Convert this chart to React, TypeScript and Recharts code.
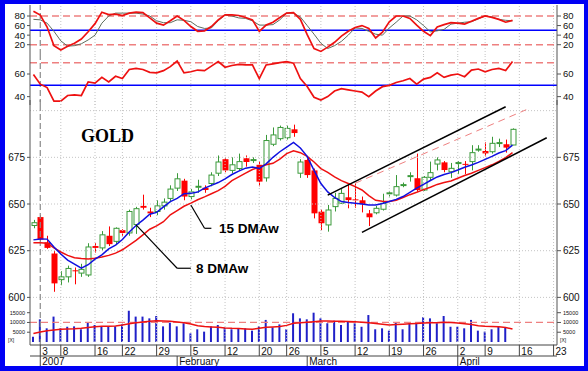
import React from 'react';
import { ComposedChart, Bar, Line, XAxis, YAxis, ReferenceLine } from 'recharts';

const dates = [
  '12/29', '1/3', '1/4', '1/5', '1/8', '1/9', '1/10', '1/11', '1/12', '1/16', '1/17', '1/18', '1/19',
  '1/22', '1/23', '1/24', '1/25', '1/26', '1/29', '1/30', '1/31', '2/1', '2/2', '2/5', '2/6', '2/7',
  '2/8', '2/9', '2/12', '2/13', '2/14', '2/15', '2/16', '2/20', '2/21', '2/22', '2/23', '2/26', '2/27',
  '2/28', '3/1', '3/2', '3/5', '3/6', '3/7', '3/8', '3/9', '3/12', '3/13', '3/14', '3/15', '3/16',
  '3/19', '3/20', '3/21', '3/22', '3/23', '3/26', '3/27', '3/28', '3/29', '3/30', '4/2', '4/3', '4/4',
  '4/5', '4/9', '4/10', '4/11', '4/12', '4/13', '4/16', '4/17', '4/18', '4/19', '4/20', '4/23',
];

const openP = [
  638.5, 643, 629.5, 623.5, 609.5, 611, 614.5, 613, 612, 627.5,
  626.5, 633, 630, 636, 634.5, 639, 649, 646, 646, 649,
  653, 658.5, 662.5, 654, 659, 658.7, 661, 666.5, 674, 668,
  669, 674.5, 673.3, 671, 664, 682, 685, 685.5, 690, 666.5,
  673.6, 668, 645.9, 638.8, 648.6, 650.4, 653.6, 652.5, 652, 645,
  645.3, 647.2, 655.5, 654.8, 660, 664.8, 663.8, 657.5, 664.3, 671.4,
  672.3, 667.3, 672, 671.5, 672.7, 679.2, 678.4, 678, 682.7, 682, 681.6,
];
const highP = [
  641.5, 644, 633, 625, 614, 617, 616, 618, 629, 629,
  635.5, 638, 637.5, 636.5, 647, 648.5, 655, 648, 652, 653,
  660, 666.5, 663.5, 658, 663, 660, 667, 676, 675, 675,
  677, 676, 675, 673, 687, 691, 692, 692, 692.5, 674,
  674.5, 669, 647, 649.5, 656, 658, 660.2, 661, 654, 646.8,
  649, 655.5, 657, 665.5, 661.5, 667, 677, 665, 672.7, 675,
  673, 672, 673, 673, 681.5, 681.5, 683, 686, 685, 684.5, 690.5,
];
const lowP = [
  637, 630, 626, 603, 606.5, 608, 607, 611, 611, 624,
  625, 627.5, 628, 633, 633, 634, 647, 643, 644, 647,
  651, 657, 652, 652.5, 656, 656, 659.5, 665, 667, 666.5,
  668, 670, 672, 659.5, 662, 681, 684, 684.5, 686, 664,
  664, 642.3, 636, 635.2, 646, 650, 647.7, 648, 645.5, 638.2,
  644.5, 646.5, 654, 654, 659, 662, 656.6, 657, 662.9, 668,
  667, 664, 666, 666, 668, 678, 675.5, 677, 680.5, 677.5, 681.5,
];
const closeP = [
  640, 631, 626.5, 607.5, 611, 615.5, 614, 615, 627, 626.5,
  633.5, 628.5, 637, 634.5, 646, 647.5, 648, 645, 649, 651,
  658, 663.5, 654, 656.5, 659.5, 657.5, 665.5, 672.5, 668, 671,
  672.7, 672.5, 673.8, 662, 684, 687, 691, 690.5, 688, 672.5,
  665.5, 645, 639.7, 646.8, 653, 655.7, 652.1, 652, 650, 642.9,
  647.7, 650.4, 656, 659.3, 660.4, 665.2, 657.5, 664.3, 666.8, 673.6,
  668.2, 669.1, 672.2, 671.2, 677.5, 679.4, 677.1, 682.5, 682.9, 680.2, 690,
];
const ma8 = [
  630.8, 631.3, 631.2, 627, 623.2, 620, 617.8, 615.6, 617.5, 620.5,
  622.8, 626, 628, 631, 635, 638.5, 641.4, 644.5, 645.5, 648.5,
  651.3, 653, 655.5, 655.7, 656.4, 658.5, 660, 661.5, 663.5, 665.8,
  667.6, 669.2, 669.8, 669, 671.5, 675, 678, 680.5, 683, 680,
  675.5, 668, 661, 656.5, 653.5, 651.3, 650.8, 650.4, 650, 649.5,
  649.5, 650.3, 651.3, 652.5, 654, 656.2, 658.5, 660.5, 662.6, 664.5,
  665.8, 666.8, 668.2, 669.7, 670.9, 672.3, 673.9, 675.5, 677.3, 678.6, 681.5,
];
const ma15 = [
  629.3, 629.3, 629, 626.5, 624.3, 622.5, 621.2, 620.8, 620.6, 621,
  621.6, 622.5, 623.7, 625.5, 628, 630.5, 633.5, 636.5, 638.3, 640.5,
  644.2, 646.5, 648.8, 650.5, 652.3, 653.8, 655.5, 657.2, 659.5, 662.5,
  664.5, 666.5, 668.5, 669.8, 671, 671.8, 674, 677, 678.5, 677.5,
  675.5, 672.5, 669, 667, 664.5, 662.5, 661, 659.3, 657.5, 654.5,
  652, 651.5, 651.3, 652, 653.5, 655, 656.3, 657.7, 659, 660.5,
  661.5, 662.3, 663.8, 665.3, 666.5, 668, 669.5, 671, 672.8, 674.8, 677.5,
];
const stochK = [
  90, 82, 57, 18, 9, 17, 23, 32, 47, 64,
  88, 83, 84, 81, 86, 88, 87, 76, 65, 61,
  70, 80, 71, 58, 48, 49, 58, 72, 82.5, 82.5,
  81, 77, 72, 48, 61, 67, 77, 86, 87, 73,
  41, 12, 6, 15, 25, 38, 48, 56, 60, 54,
  34, 46, 68, 80, 80, 75, 61, 48, 39, 57,
  62, 66, 65, 63, 69, 75, 80, 77, 73, 67, 71,
];
const stochD = [
  73, 72, 65, 48, 28, 17, 18, 22, 30, 40,
  65, 80, 86, 86, 86, 86, 84, 80, 70, 66,
  66, 72, 71, 68, 58, 54, 55, 70, 82, 80,
  76, 75, 70, 61, 61, 62, 72, 86, 86, 78,
  60, 42, 23, 12, 18, 27, 40, 55, 54, 48,
  42, 40, 55, 67, 80, 80, 72, 60, 47, 49,
  52, 63, 65, 67, 68, 74, 80, 78, 73, 71, 70,
];
const rsi = [
  59.5, 51, 48, 36, 36, 41, 41.5, 41, 53, 52,
  57, 53, 58, 56, 64, 65, 64, 61.5, 61, 63,
  66.5, 71.5, 61, 62, 63.5, 63, 67, 71, 66, 67.5,
  68.5, 68, 68, 56, 68, 69, 70, 71, 69.5, 56,
  49, 39.5, 37, 40, 45, 47, 46, 45, 44, 40,
  45, 48.8, 50, 52.5, 54, 56, 51, 55.5, 57, 61,
  57, 59, 60, 57.6, 63.5, 64.4, 62, 64, 65, 63, 71,
];
const volume = [
  2700, 11600, 7000, 13000, 7000, 7800, 8000, 6500, 10100, 8700,
  8000, 8000, 8000, 9000, 16000, 13000, 13000, 12100, 13300, 8000,
  9900, 8000, 9600, 4400, 6500, 5300, 8000, 8700, 7200, 6500,
  7000, 7000, 5800, 8000, 11300, 7500, 9000, 6500, 14700, 12100,
  11600, 15000, 12100, 9600, 10900, 8700, 10400, 9600, 7800, 13800,
  6500, 7000, 5800, 9900, 6500, 9600, 9900, 12700, 12100, 9600,
  13300, 7800, 7800, 7000, 11300, 5800, 5300, 6500, 8000, 7500, null,
];
const volMA = [
  4400, 5100, 5700, 6100, 6500, 6700, 6800, 7000, 7400, 7800,
  8000, 8100, 8200, 8700, 9300, 9800, 10200, 10600, 10900, 10800,
  10600, 10200, 9800, 9200, 8300, 7900, 7700, 7500, 7200, 7000,
  6900, 6700, 6500, 7000, 7500, 7700, 7900, 8500, 9600, 9800,
  10100, 10400, 10700, 10700, 10600, 10600, 10500, 10400, 10100, 9800,
  9500, 9100, 8700, 8900, 9100, 9300, 9500, 9700, 9800, 9900,
  10100, 10000, 9700, 9300, 8900, 8300, 8000, 7900, 7800, 7400, 6600,
];

const weekTicks = ['1/3', '1/8', '1/16', '1/22', '1/29', '2/5', '2/12', '2/20', '2/26', '3/5', '3/12', '3/19', '3/26', '4/2', '4/9', '4/16', '4/23'];
const weekLabels = ['3', '8', '16', '22', '29', '5', '12', '20', '26', '5', '12', '19', '26', '2', '9', '16', '23'];
const monthTicks = ['1/3', '2/1', '3/1', '4/2'];
const monthLabels = ['2007', 'February', 'March', 'April'];

const priceTicks = [600, 625, 650, 675];
const priceGrid = [600, 625, 650, 675, 700];
const stochTicks = [20, 40, 60, 80];
const rsiTicks = [40, 60];
const volTicks = [5000, 10000, 15000];

const channelUpper = [{ x: '3/6', y: 654.8 }, { x: '4/12', y: 702.1 }];
const channelLower = [{ x: '3/13', y: 634.8 }, { x: '4/20', y: 685.5 }];
const channelMid = [{ x: '3/12', y: 661.1 }, { x: '4/17', y: 700.5 }];
const leader15a = [{ x: '2/5', y: 649.5 }, { x: '2/7', y: 637 }];
const leader15b = [{ x: '2/7', y: 637 }, { x: '2/8', y: 637 }];
const leader8a = [{ x: '1/24', y: 638.8 }, { x: '2/1', y: 615.6 }];
const leader8b = [{ x: '2/1', y: 615.6 }, { x: '2/5', y: 615.6 }];

const data = dates.map((d, i) => ({
  date: d,
  open: openP[i],
  high: highP[i],
  low: lowP[i],
  close: closeP[i],
  range: highP[i] != null ? [lowP[i], highP[i]] : undefined,
  ma8: ma8[i],
  ma15: ma15[i],
  k: stochK[i],
  d: stochD[i],
  rsi: rsi[i],
  vol: volume[i] == null ? undefined : volume[i],
  vma: volMA[i],
}));

const FONT = '"Liberation Sans", Arial, sans-serif';
const GREEN = '#3a9a3a';
const RED = '#ff0000';
const AX = '#555';
const PINK = '#ee8080';
const BLUE = '#0000ff';
const W = 588;

const Candle = (props: any) => {
  const { x, y, width, height, payload } = props;
  if (!payload || payload.high == null) return null;
  const { open, close, high, low } = payload;
  const span = high - low || 1;
  const py = (p: number) => y + ((high - p) / span) * height;
  const cx = Math.round(x + width / 2) + 0.5;
  const up = close >= open;
  const color = up ? GREEN : RED;
  const top = py(Math.max(open, close));
  const bot = py(Math.min(open, close));
  const bh = Math.max(bot - top, 1);
  return (
    <g>
      <line x1={cx} x2={cx} y1={y} y2={y + height} stroke={color} strokeWidth={1} />
      {up ? (
        <rect x={cx - 2.5} y={top} width={5} height={bh} fill="#fff" stroke={color} strokeWidth={1} />
      ) : (
        <rect x={cx - 3} y={top} width={6} height={bh} fill={color} />
      )}
    </g>
  );
};

const DayTick = (props: any) => {
  const { x, y, payload } = props;
  const idx = weekTicks.indexOf(payload.value);
  if (idx < 0) return null;
  return (
    <g>
      <line x1={x} x2={x} y1={y} y2={y + 11} stroke="#444" strokeWidth={1} />
      <text x={x + 2} y={y + 9.5} fontSize={10} fill="#111" fontFamily={FONT}>{weekLabels[idx]}</text>
    </g>
  );
};

const MonthTick = (props: any) => {
  const { x, y, payload } = props;
  const idx = monthTicks.indexOf(payload.value);
  if (idx < 0) return null;
  return (
    <g>
      <line x1={x} x2={x} y1={y} y2={y + 10} stroke="#444" strokeWidth={1} />
      <text x={x + 2} y={y + 9} fontSize={10} fill="#111" fontFamily={FONT}>{monthLabels[idx]}</text>
    </g>
  );
};

const tickStyle = { fontSize: 10, fill: '#111', fontFamily: FONT };
const smallTick = { fontSize: 9.5, fill: '#111', fontFamily: FONT };
const tinyTick = { fontSize: 5.5, fill: '#111', fontFamily: FONT };

const gridLines = () =>
  weekTicks.map((t) =>
    t === '1/3' ? (
      <ReferenceLine key={t} x={t} stroke="#8a8a8a" strokeDasharray="6 3" strokeWidth={1.2} />
    ) : (
      <ReferenceLine key={t} x={t} stroke="#c4c4c4" strokeDasharray="1 2" />
    )
  );

const yAxes = (domain: number[], ticks: number[], style: any) => [
  <YAxis key="l" orientation="left" width={30} type="number" domain={domain} allowDataOverflow ticks={ticks} interval={0}
    tickSize={3} tickMargin={2} tick={style} axisLine={{ stroke: AX }} tickLine={{ stroke: AX }} />,
  <YAxis key="r" yAxisId="r" orientation="right" width={31} type="number" domain={domain} allowDataOverflow ticks={ticks} interval={0}
    tickSize={4} tickMargin={2} tick={style} axisLine={{ stroke: AX }} tickLine={{ stroke: AX }} />,
];

export default function App() {
  return (
    <div style={{ position: 'absolute', left: 0, top: 0, width: 588, height: 371, background: '#0000f4', overflow: 'hidden' }}>
      <div style={{ position: 'absolute', left: 5, top: 4, width: 579, height: 362, background: '#fff' }} />

      {/* stochastic panel: plot y 5..55 */}
      <div style={{ position: 'absolute', left: 0, top: 0 }}>
        <ComposedChart width={W} height={60} data={data} margin={{ top: 5, right: 0, bottom: 5, left: 0 }}>
          <XAxis dataKey="date" hide scale="band" />
          {yAxes([-1.5, 103], stochTicks, smallTick)}
          {gridLines()}
          <ReferenceLine y={80} stroke={PINK} strokeDasharray="7 4" strokeWidth={1.5} />
          <ReferenceLine y={20} stroke={PINK} strokeDasharray="7 4" strokeWidth={1.5} />
          <ReferenceLine y={50} stroke={BLUE} strokeWidth={1.5} />
          <Line dataKey="d" stroke="#5d6d5d" strokeWidth={1} dot={false} isAnimationActive={false} />
          <Line dataKey="k" stroke="#ee1111" strokeWidth={1.7} dot={false} isAnimationActive={false} />
        </ComposedChart>
      </div>

      {/* RSI panel: plot y 55..105 */}
      <div style={{ position: 'absolute', left: 0, top: 50 }}>
        <ComposedChart width={W} height={60} data={data} margin={{ top: 5, right: 0, bottom: 5, left: 0 }}>
          <XAxis dataKey="date" hide scale="band" />
          {yAxes([32.6, 76.8], rsiTicks, smallTick)}
          {gridLines()}
          <ReferenceLine y={70} stroke={PINK} strokeDasharray="7 4" strokeWidth={1.5} />
          <ReferenceLine y={50} stroke={BLUE} strokeWidth={1.5} />
          <Line dataKey="rsi" stroke="#ee1111" strokeWidth={1.7} dot={false} isAnimationActive={false} />
        </ComposedChart>
      </div>

      {/* price panel: plot y 100..300 */}
      <div style={{ position: 'absolute', left: 0, top: 94 }}>
        <ComposedChart width={W} height={212} data={data} margin={{ top: 6, right: 0, bottom: 6, left: 0 }}>
          <XAxis dataKey="date" hide />
          {yAxes([598.6, 705.7], priceTicks, tickStyle)}
          {gridLines()}
          {priceGrid.map((p) => (
            <ReferenceLine key={p} y={p} stroke="#c4c4c4" strokeDasharray="1 2" />
          ))}
          <Bar dataKey="range" barSize={5} shape={(p: any) => <Candle {...p} />} isAnimationActive={false} />
          <Line dataKey="ma15" stroke="#ee1111" strokeWidth={1.5} dot={false} isAnimationActive={false} />
          <Line dataKey="ma8" stroke="#1010e0" strokeWidth={1.5} dot={false} isAnimationActive={false} />
          <ReferenceLine segment={channelUpper} stroke="#000" strokeWidth={1.5} />
          <ReferenceLine segment={channelLower} stroke="#000" strokeWidth={1.5} />
          <ReferenceLine segment={channelMid} stroke={PINK} strokeWidth={1} strokeDasharray="7 5" />
          <ReferenceLine segment={leader15a} stroke="#000" strokeWidth={1.2} />
          <ReferenceLine segment={leader15b} stroke="#000" strokeWidth={1.2} />
          <ReferenceLine segment={leader8a} stroke="#000" strokeWidth={1.2} />
          <ReferenceLine segment={leader8b} stroke="#000" strokeWidth={1.2} />
        </ComposedChart>
      </div>

      {/* volume panel: plot y 300..345, axes below */}
      <div style={{ position: 'absolute', left: 0, top: 294 }}>
        <ComposedChart width={W} height={72} data={data} margin={{ top: 6, right: 0, bottom: 0, left: 0 }}>
          <XAxis dataKey="date" height={11} ticks={weekTicks} interval={0} tickSize={0} tickMargin={0} tickLine={false}
            tick={(p: any) => <DayTick {...p} />} axisLine={{ stroke: '#444' }} />
          <XAxis xAxisId="m" dataKey="date" height={10} ticks={monthTicks} interval={0} tickSize={0} tickMargin={0} tickLine={false}
            tick={(p: any) => <MonthTick {...p} />} axisLine={{ stroke: '#444' }} scale="band" />
          {yAxes([-1540, 21500], volTicks, tinyTick)}
          {gridLines()}
          <ReferenceLine y={10000} stroke={PINK} strokeDasharray="7 4" strokeWidth={1.2} />
          <Bar dataKey="vol" barSize={2} fill="#2020c8" isAnimationActive={false} />
          <Line dataKey="vma" stroke="#ee1111" strokeWidth={1.5} dot={false} isAnimationActive={false} />
        </ComposedChart>
      </div>

      <svg width={588} height={371} style={{ position: 'absolute', left: 0, top: 0, pointerEvents: 'none' }}>
        <text x={81} y={141.5} fontSize={18} fontWeight="bold" fontFamily='"Liberation Serif", "Times New Roman", serif' fill="#000">GOLD</text>
        <text x={219} y={232.5} fontSize={13.5} fontWeight="bold" fontFamily={FONT} fill="#000">15 DMAw</text>
        <text x={196} y={273.3} fontSize={13.5} fontWeight="bold" fontFamily={FONT} fill="#000">8 DMAw</text>
        <text x={8} y={342} fontSize={5} fontFamily={FONT} fill="#111">[X]</text>
        <text x={560} y={342} fontSize={5} fontFamily={FONT} fill="#111">[X]</text>
      </svg>
    </div>
  );
}
